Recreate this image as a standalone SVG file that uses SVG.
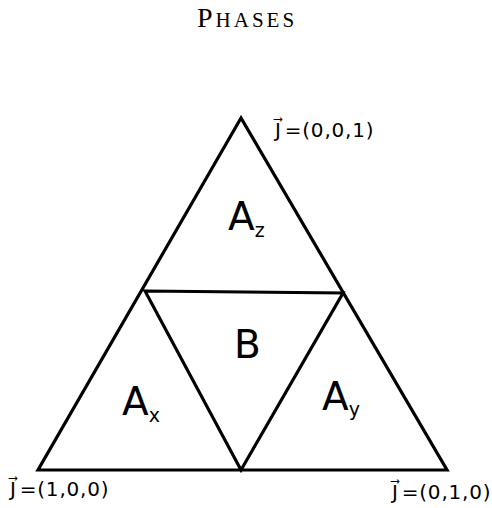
<svg xmlns="http://www.w3.org/2000/svg" width="492" height="508" viewBox="0 0 492 508">
<style>
.edge{fill:none;stroke:#000;stroke-width:3.2;stroke-linejoin:miter}
.lbl{font-family:"DejaVu Sans",sans-serif;font-size:20px;fill:#000;letter-spacing:0.8px}
.ph{font-family:"DejaVu Sans",sans-serif;font-size:39px;fill:#000}
.sub{font-size:19px}
.title{font-family:"Liberation Serif",serif;font-size:28px;fill:#000;letter-spacing:3px}
.sc{font-size:21px}
</style>
<rect width="492" height="508" fill="#fff"/>
<text class="title" x="197" y="27">P<tspan class="sc">HASES</tspan></text>
<g id="connectors">
<polygon class="edge" points="241,118 38,470 447,470"/>
<polygon class="edge" points="145,291 343,293 241,470"/>
</g>
<g id="Az"><text class="ph" x="228" y="230">A<tspan class="sub" dy="7">z</tspan></text></g>
<g id="B"><text class="ph" x="234" y="358">B</text></g>
<g id="Ax"><text class="ph" x="122" y="415">A<tspan class="sub" dy="7">x</tspan></text></g>
<g id="Ay"><text class="ph" x="322" y="410">A<tspan class="sub" dy="6">y</tspan></text></g>
<g id="v001"><text class="lbl" x="275" y="137">J⃗<tspan dx="3">=(0,0,1)</tspan></text></g>
<g id="v100"><text class="lbl" x="10" y="496">J⃗<tspan dx="3">=(1,0,0)</tspan></text></g>
<g id="v010"><text class="lbl" x="392" y="499">J⃗<tspan dx="3">=(0,1,0)</tspan></text></g>
</svg>
